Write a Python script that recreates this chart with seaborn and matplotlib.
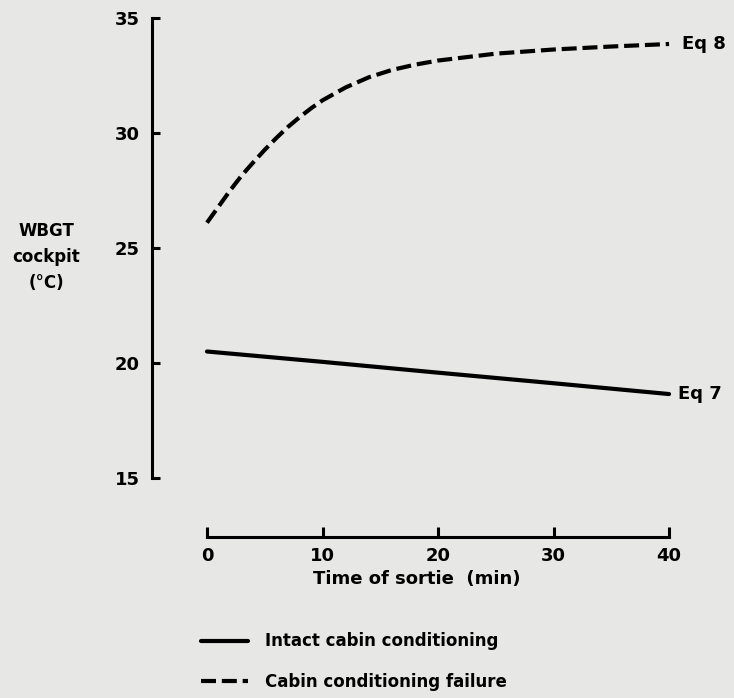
import pandas as pd
import matplotlib.pyplot as plt
import seaborn as sns

# values
time_intact = [0, 10, 20, 30, 40]
wbgt_intact = [20.5, 20.05, 19.58, 19.12, 18.65]

time_failure = [0, 1, 2, 3, 4, 5, 6, 7, 8, 9, 10, 12, 14, 16, 18, 20, 25, 30, 35, 40]
wbgt_failure = [26.1, 26.8, 27.5, 28.15, 28.72, 29.27, 29.78, 30.26, 30.68, 31.07, 31.42,
                31.98, 32.42, 32.74, 32.97, 33.15, 33.45, 33.63, 33.76, 33.87]

label_intact = "Intact cabin conditioning"
label_failure = "Cabin conditioning failure"
x_ticks = [0, 10, 20, 30, 40]
y_ticks = [15, 20, 25, 30, 35]

df = pd.concat([
    pd.DataFrame({"time": time_intact, "wbgt": wbgt_intact, "condition": label_intact}),
    pd.DataFrame({"time": time_failure, "wbgt": wbgt_failure, "condition": label_failure}),
], ignore_index=True)

sns.set_style("ticks")
plt.rcParams["font.family"] = ["DejaVu Sans"]
plt.rcParams["font.weight"] = "bold"
plt.rcParams["text.color"] = "black"
plt.rcParams["xtick.color"] = "black"
plt.rcParams["ytick.color"] = "black"
plt.rcParams["axes.labelcolor"] = "black"

bg = "#e7e7e5"
fig = plt.figure(figsize=(7.34, 6.98), dpi=100, facecolor=bg)
ax = fig.add_axes([152 / 734, 1 - 478 / 698, (680.6 - 152) / 734, 460 / 698])
ax.set_facecolor(bg)

sns.lineplot(
    data=df, x="time", y="wbgt", style="condition",
    dashes={label_intact: "", label_failure: (3.6, 1.4)},
    color="black", linewidth=3, legend=False, ax=ax,
)
for ln in ax.get_lines():
    ln.set_solid_joinstyle("round")
    ln.set_dash_joinstyle("round")
    ln.set_solid_capstyle("round")

ax.set_xlim(-4.76, 41)
ax.set_ylim(15, 35)
ax.set_xticks(x_ticks)
ax.set_yticks(y_ticks)

sns.despine(ax=ax)
ax.spines["bottom"].set_position(("outward", 42.5))
ax.spines["bottom"].set_bounds(0, 40)
for s in ["left", "bottom"]:
    ax.spines[s].set_linewidth(2.2)
    ax.spines[s].set_color("black")

ax.tick_params(axis="y", direction="in", length=6, width=2.2, pad=9, labelsize=13)
ax.tick_params(axis="x", direction="in", length=7, width=2.2, pad=7, labelsize=13)
for lab in ax.get_xticklabels() + ax.get_yticklabels():
    lab.set_fontweight("bold")

ax.set_xlabel("Time of sortie  (min)", fontsize=13, fontweight="bold", labelpad=4)
ax.set_ylabel("")
fig.text(46 / 734, 1 - 257 / 698, "WBGT\ncockpit\n(°C)", ha="center", va="center",
         multialignment="center", fontsize=12, fontweight="bold", linespacing=1.55)

ax.annotate("Eq 8", xy=(time_failure[-1], wbgt_failure[-1]), xytext=(9, 0),
            textcoords="offset points", va="center", ha="left",
            fontsize=13, fontweight="bold")
ax.annotate("Eq 7", xy=(time_intact[-1], wbgt_intact[-1]), xytext=(6.5, 0),
            textcoords="offset points", va="center", ha="left",
            fontsize=13, fontweight="bold")

handles = ax.get_lines()[:2]
ax.legend(handles, [label_intact, label_failure], loc="upper left",
          bbox_to_anchor=(193 / 734, 1 - 624 / 698), bbox_transform=fig.transFigure,
          frameon=False, fontsize=12, handlelength=2.8, handletextpad=1.0,
          labelspacing=1.35, borderpad=0)

fig.savefig("out.png", dpi=100, facecolor=bg)
